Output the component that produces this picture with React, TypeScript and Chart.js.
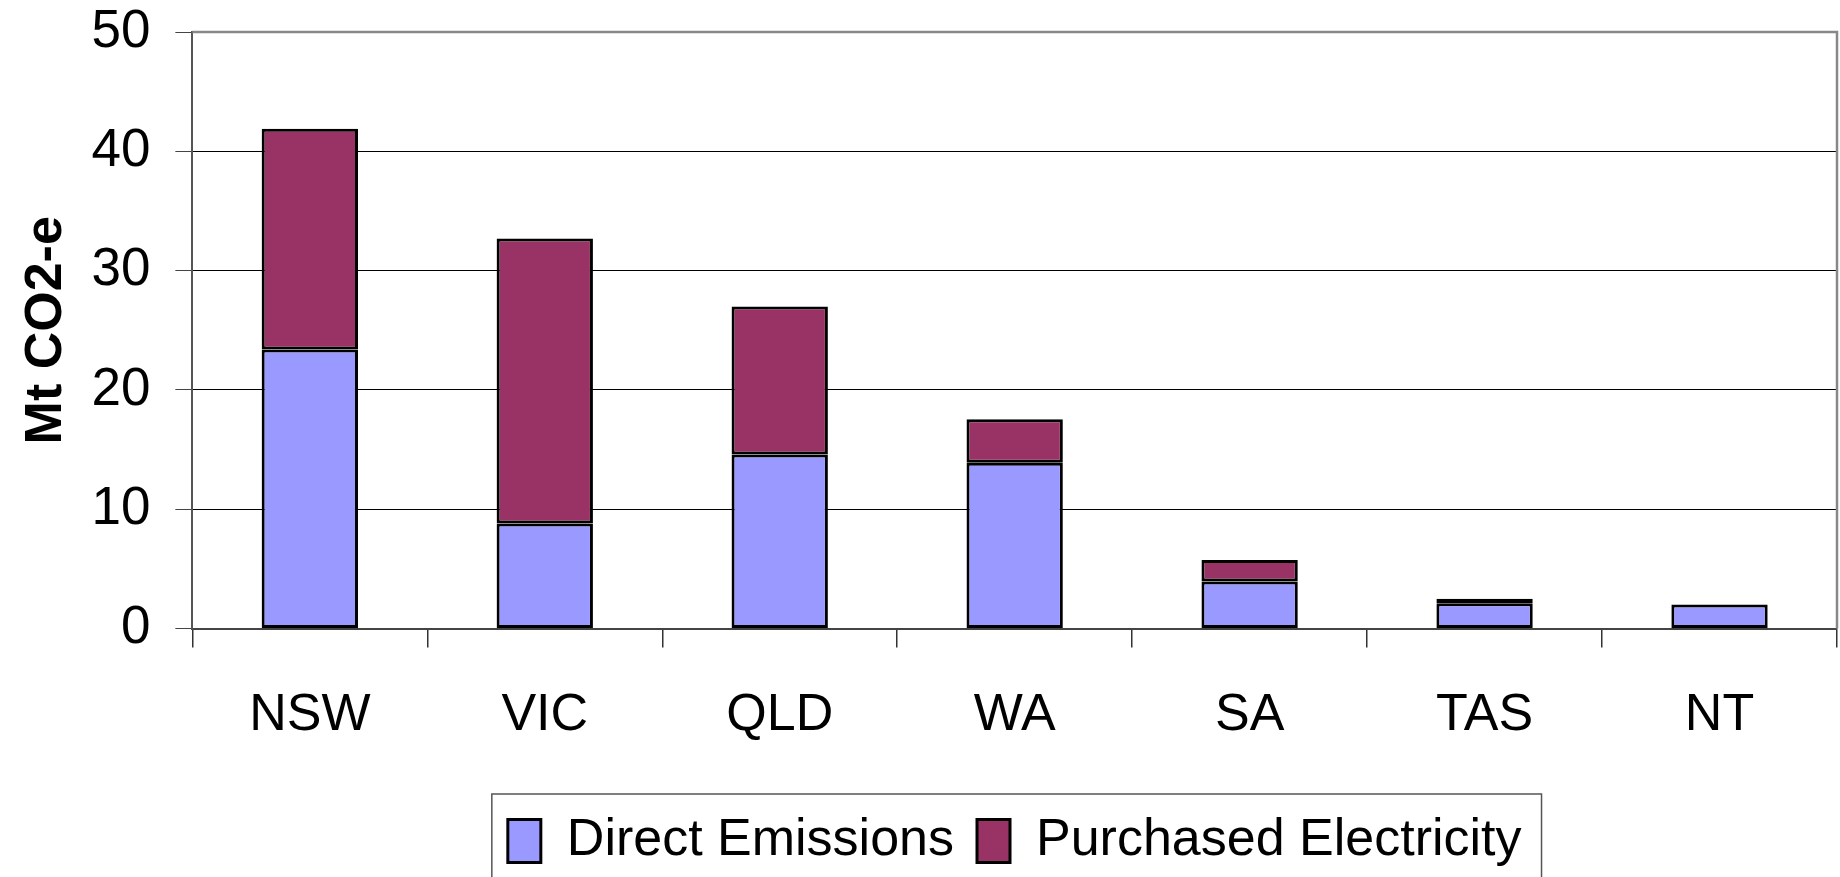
import React, { useEffect, useRef } from "react";
import { Chart, registerables } from "chart.js";

Chart.register(...registerables);

const categories = ["NSW", "VIC", "QLD", "WA", "SA", "TAS", "NT"];
const directEmissions = [23.4, 8.8, 14.6, 13.9, 3.95, 2.12, 2.02];
const purchasedElectricity = [18.5, 23.9, 12.4, 3.65, 1.8, 0.38, 0];
const yTicks = [0, 10, 20, 30, 40, 50];

const FONT = '"Liberation Sans", Arial, sans-serif';

const framePlugin = {
  id: "frame",
  afterLayout(chart: any) {
    const lg = chart.legend;
    const ca = chart.chartArea;
    if (lg && ca) {
      lg.left = ca.left;
      lg.right = ca.right;
      lg.width = ca.right - ca.left;
    }
  },
  afterDraw(chart: any) {
    const ctx = chart.ctx;
    const ca = chart.chartArea;
    ctx.save();
    // plot-area border (top and right)
    ctx.strokeStyle = "#888888";
    ctx.lineWidth = 2.5;
    ctx.beginPath();
    ctx.moveTo(ca.left, ca.top);
    ctx.lineTo(ca.right, ca.top);
    ctx.lineTo(ca.right, ca.bottom);
    ctx.stroke();
    // legend border
    const lg = chart.legend;
    if (lg && lg.lineWidths) {
      const pad = lg.options.labels.padding;
      const w = lg.lineWidths[0] - pad;
      const cx = (ca.left + ca.right) / 2;
      const x0 = cx - w / 2 - 16;
      const x1 = cx + w / 2 + 20;
      const y0 = lg.top + 2;
      ctx.strokeStyle = "#555555";
      ctx.lineWidth = 1.5;
      ctx.strokeRect(x0, y0, x1 - x0, chart.height + 20 - y0);
    }
    ctx.restore();
  },
};

export default function App() {
  const ref = useRef<HTMLCanvasElement | null>(null);
  useEffect(() => {
    if (!ref.current) return;
    const chart = new Chart(ref.current, {
      type: "bar",
      data: {
        labels: categories,
        datasets: [
          {
            label: "Direct Emissions",
            data: directEmissions,
            backgroundColor: "#9999FF",
            borderColor: "#000000",
            borderWidth: 3,
            borderSkipped: false,
          },
          {
            label: "Purchased Electricity",
            data: purchasedElectricity,
            backgroundColor: "#993366",
            borderColor: "#000000",
            borderWidth: 3,
            borderSkipped: false,
          },
        ],
      },
      options: {
        animation: false,
        responsive: false,
        events: [],
        layout: { padding: { top: 0, right: 3, bottom: 0, left: 0 } },
        datasets: { bar: { barPercentage: 0.41, categoryPercentage: 1 } },
        plugins: {
          tooltip: { enabled: false },
          legend: {
            display: true,
            position: "bottom",
            labels: {
              boxWidth: 33,
              boxHeight: 43,
              padding: 23,
              color: "#000",
              font: { family: FONT, size: 52 },
            },
          },
        },
        scales: {
          x: {
            stacked: true,
            grid: {
              offset: true,
              drawOnChartArea: false,
              drawTicks: true,
              tickLength: 19,
              color: "#333",
              lineWidth: 1.5,
            },
            border: { display: true, color: "#444", width: 2 },
            ticks: {
              color: "#000",
              padding: 37,
              font: { family: FONT, size: 52 },
              maxRotation: 0,
            },
            afterFit(scale: any) {
              scale.height += 8;
            },
          },
          y: {
            stacked: true,
            min: 0,
            max: 50,
            afterBuildTicks(scale: any) {
              scale.ticks = yTicks.map((v) => ({ value: v }));
            },
            afterFit(scale: any) {
              scale.width -= 25;
              scale.paddingTop = 32;
              scale.paddingBottom = 32;
            },
            grid: {
              color: "#000",
              lineWidth: 1,
              tickLength: 17,
              tickColor: "#444",
            },
            border: { display: true, color: "#555", width: 2 },
            ticks: {
              color: "#000",
              padding: 25,
              font: { family: FONT, size: 53 },
            },
            title: {
              display: true,
              text: "Mt CO2-e",
              color: "#000",
              font: { family: FONT, size: 52, weight: "bold" },
              padding: { top: 15, bottom: 14 },
            },
          },
        },
      },
      plugins: [framePlugin],
    });
    return () => chart.destroy();
  }, []);
  return (
    <div style={{ position: "fixed", left: 0, top: 0, width: 1840, height: 877, background: "#fff" }}>
      <canvas ref={ref} width={1840} height={877} style={{ display: "block" }} />
    </div>
  );
}
